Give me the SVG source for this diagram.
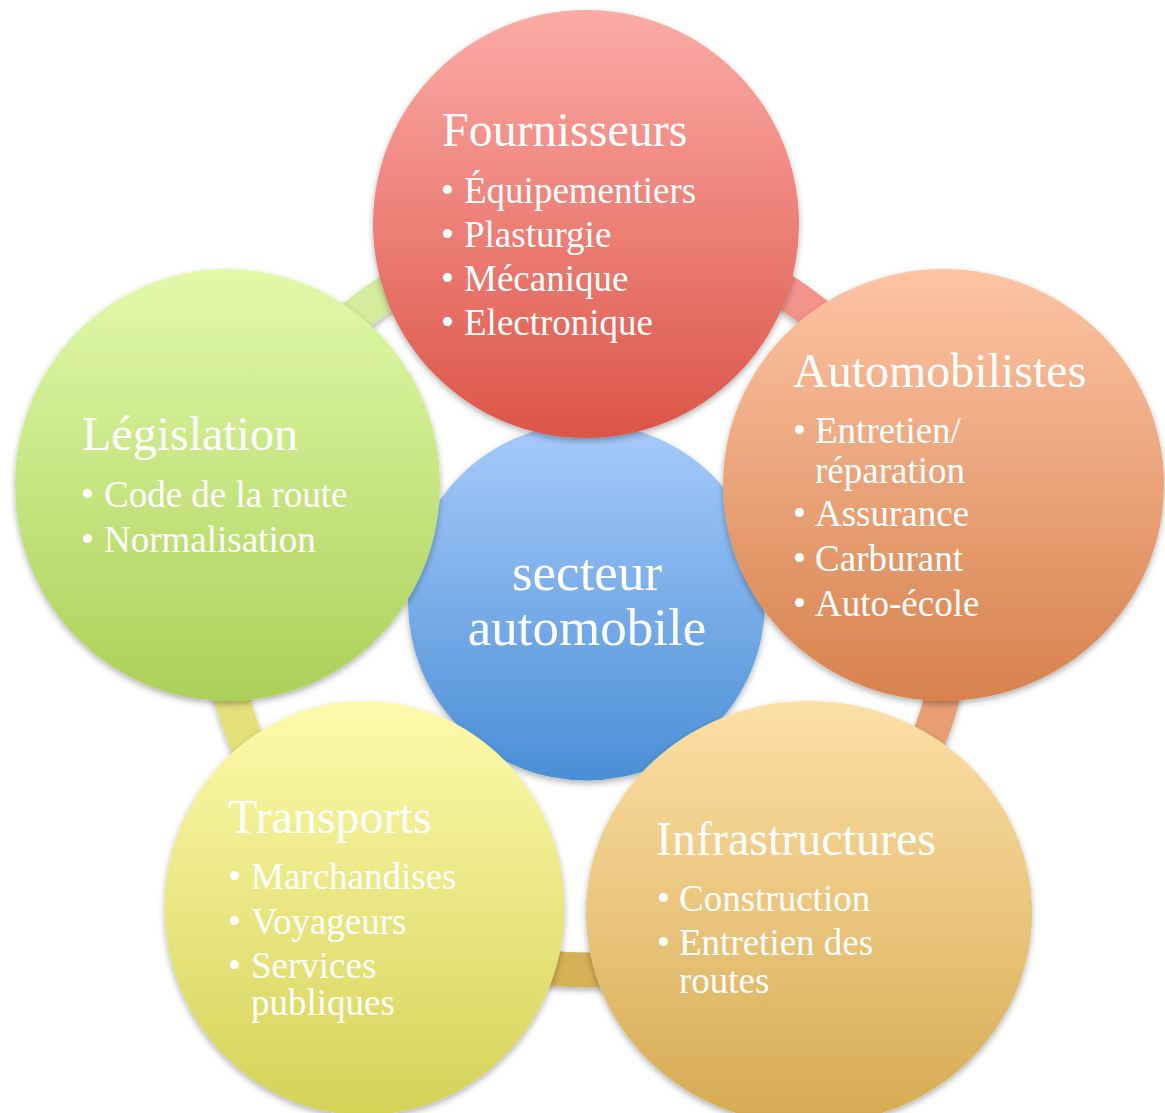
<svg xmlns="http://www.w3.org/2000/svg" width="1165" height="1113" viewBox="0 0 1165 1113">
<defs>
<style>
.t{font-family:"Liberation Serif","Times New Roman",serif;fill:#ffffff;}
.h{font-size:48px;}
.b{font-size:37px;}
.c{font-size:53px;text-anchor:middle;}
.band{fill:none;stroke-width:35;}
</style>
<filter id="sh" x="-10%" y="-10%" width="120%" height="125%">
<feDropShadow dx="0" dy="3" stdDeviation="3" flood-color="#000" flood-opacity="0.3"/>
</filter>
<linearGradient id="gRed" x1="0" y1="0" x2="0" y2="1"><stop offset="0" stop-color="#fcaba6"/><stop offset="1" stop-color="#dc5548"/></linearGradient>
<linearGradient id="gOra" x1="0" y1="0" x2="0" y2="1"><stop offset="0" stop-color="#fdc4a4"/><stop offset="1" stop-color="#d7824d"/></linearGradient>
<linearGradient id="gGrn" x1="0" y1="0" x2="0" y2="1"><stop offset="0" stop-color="#e1faab"/><stop offset="1" stop-color="#acd058"/></linearGradient>
<linearGradient id="gYel" x1="0" y1="0" x2="0" y2="1"><stop offset="0" stop-color="#fefaac"/><stop offset="1" stop-color="#d5d258"/></linearGradient>
<linearGradient id="gGld" x1="0" y1="0" x2="0" y2="1"><stop offset="0" stop-color="#fde0a7"/><stop offset="1" stop-color="#d6aa52"/></linearGradient>
<linearGradient id="gBlu" x1="0" y1="0" x2="0" y2="1"><stop offset="0" stop-color="#a8cbfb"/><stop offset="1" stop-color="#4a8fd6"/></linearGradient>
</defs>
<rect width="1165" height="1113" fill="#ffffff"/>
<g id="connectors" filter="url(#sh)">
<path class="band" stroke="#f4938c" d="M587,234 A368,368 0 0 1 937,488.3"/>
<path class="band" stroke="#e89e72" d="M937,488.3 A368,368 0 0 1 803.3,899.7"/>
<path class="band" stroke="#d7b157" d="M803.3,899.7 A368,368 0 0 1 370.7,899.7"/>
<path class="band" stroke="#e3e07a" d="M370.7,899.7 A368,368 0 0 1 237,488.3"/>
<path class="band" stroke="#d3ec9e" d="M237,488.3 A368,368 0 0 1 587,234"/>
</g>
<g id="center">
<circle cx="586.5" cy="602" r="178.5" fill="url(#gBlu)" filter="url(#sh)"/>
<text class="t c"><tspan x="587" y="590">secteur</tspan><tspan x="587" y="645">automobile</tspan></text>
</g>
<g id="fournisseurs">
<ellipse cx="586" cy="224" rx="213" ry="214" fill="url(#gRed)" filter="url(#sh)"/>
<text class="t h" x="442" y="146">Fournisseurs</text>
<text class="t b"><tspan x="441" y="203">•</tspan><tspan x="464" y="203">Équipementiers</tspan></text>
<text class="t b"><tspan x="441" y="247">•</tspan><tspan x="464" y="247">Plasturgie</tspan></text>
<text class="t b"><tspan x="441" y="291">•</tspan><tspan x="464" y="291">Mécanique</tspan></text>
<text class="t b"><tspan x="441" y="335">•</tspan><tspan x="464" y="335">Electronique</tspan></text>
</g>
<g id="automobilistes">
<ellipse cx="943.5" cy="485" rx="220.5" ry="216" fill="url(#gOra)" filter="url(#sh)"/>
<text class="t h" x="793" y="387">Automobilistes</text>
<text class="t b"><tspan x="793" y="443">•</tspan><tspan x="815" y="443">Entretien/</tspan><tspan x="815" y="483">réparation</tspan></text>
<text class="t b"><tspan x="793" y="526">•</tspan><tspan x="815" y="526">Assurance</tspan></text>
<text class="t b"><tspan x="793" y="571">•</tspan><tspan x="815" y="571">Carburant</tspan></text>
<text class="t b"><tspan x="793" y="616">•</tspan><tspan x="815" y="616">Auto-école</tspan></text>
</g>
<g id="legislation">
<ellipse cx="227.5" cy="485" rx="212.5" ry="216" fill="url(#gGrn)" filter="url(#sh)"/>
<text class="t h" x="82" y="450">Législation</text>
<text class="t b"><tspan x="81" y="507">•</tspan><tspan x="104" y="507">Code de la route</tspan></text>
<text class="t b"><tspan x="81" y="552">•</tspan><tspan x="104" y="552">Normalisation</tspan></text>
</g>
<g id="transports">
<ellipse cx="364.5" cy="908" rx="200" ry="207" fill="url(#gYel)" filter="url(#sh)"/>
<text class="t h" x="228" y="833">Transports</text>
<text class="t b"><tspan x="228" y="889">•</tspan><tspan x="251" y="889">Marchandises</tspan></text>
<text class="t b"><tspan x="228" y="934">•</tspan><tspan x="251" y="934">Voyageurs</tspan></text>
<text class="t b"><tspan x="228" y="978">•</tspan><tspan x="251" y="978">Services</tspan><tspan x="251" y="1015">publiques</tspan></text>
</g>
<g id="infrastructures">
<ellipse cx="809" cy="913" rx="223" ry="212" fill="url(#gGld)" filter="url(#sh)"/>
<text class="t h" x="656" y="855">Infrastructures</text>
<text class="t b"><tspan x="657" y="911">•</tspan><tspan x="679" y="911">Construction</tspan></text>
<text class="t b"><tspan x="657" y="955">•</tspan><tspan x="679" y="955">Entretien des</tspan><tspan x="679" y="993">routes</tspan></text>
</g>
</svg>
